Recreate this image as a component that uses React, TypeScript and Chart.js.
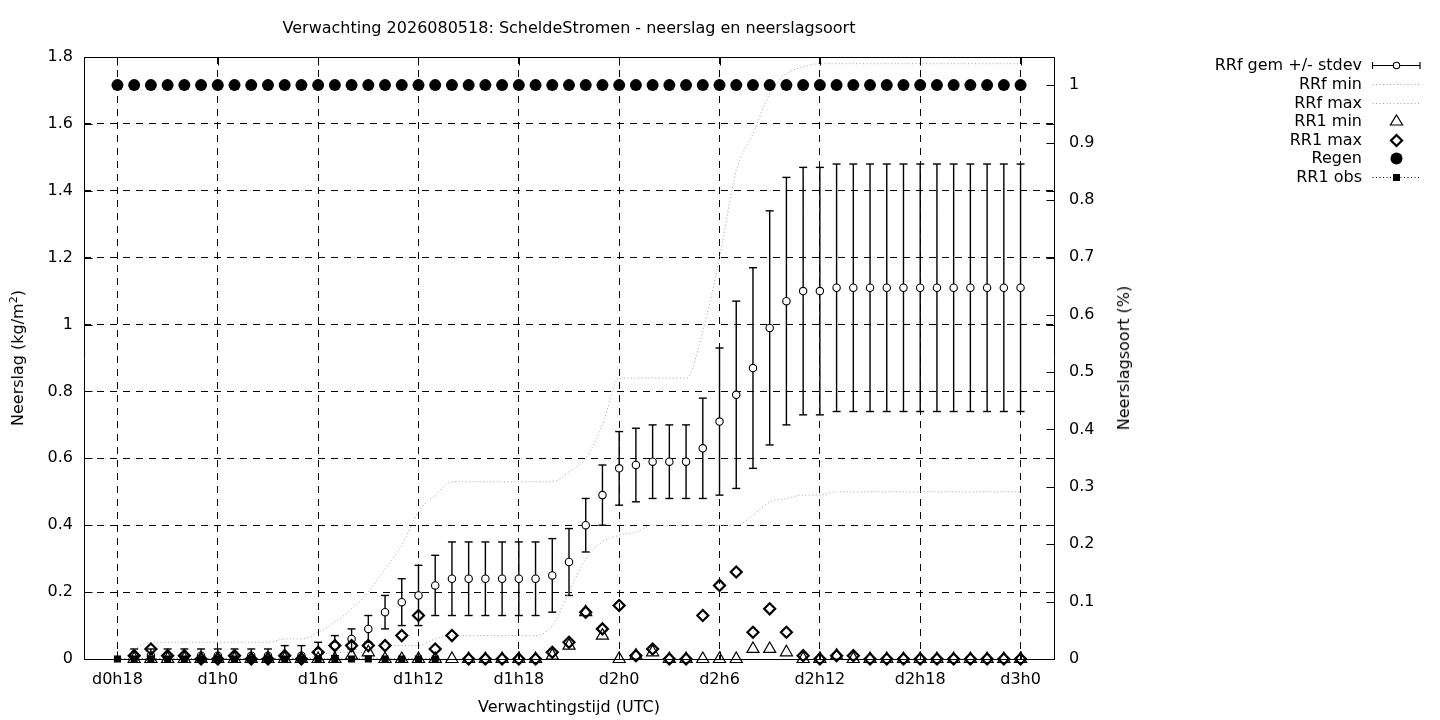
import React, { useEffect, useRef } from 'react';
import { Chart, registerables } from 'chart.js';

Chart.register(...registerables);

const FONT = "'DejaVu Sans', sans-serif";
const FONT_SIZE = 16;

const TITLE = 'Verwachting 2026080518: ScheldeStromen - neerslag en neerslagsoort';
const X_TITLE = 'Verwachtingstijd (UTC)';
const Y2_TITLE = 'Neerslagsoort (%)';

const X_TICK_VALUES = [18, 24, 30, 36, 42, 48, 54, 60, 66, 72];
const X_TICK_LABELS = ['d0h18', 'd1h0', 'd1h6', 'd1h12', 'd1h18', 'd2h0', 'd2h6', 'd2h12', 'd2h18', 'd3h0'];
const Y_TICK_VALUES = [0, 0.2, 0.4, 0.6, 0.8, 1, 1.2, 1.4, 1.6, 1.8];
const Y2_TICK_VALUES = [0, 0.1, 0.2, 0.3, 0.4, 0.5, 0.6, 0.7, 0.8, 0.9, 1];

// forecast hours (hours after d0h0)
const FC_HOURS = [19, 20, 21, 22, 23, 24, 25, 26, 27, 28, 29, 30, 31, 32, 33, 34, 35, 36, 37, 38, 39, 40, 41, 42, 43, 44, 45, 46, 47, 48, 49, 50, 51, 52, 53, 54, 55, 56, 57, 58, 59, 60, 61, 62, 63, 64, 65, 66, 67, 68, 69, 70, 71, 72];

const RRF_MEAN = [0.01, 0.01, 0.01, 0.01, 0.01, 0.01, 0.01, 0.01, 0.01, 0.01, 0.01,
  0.02, 0.04, 0.06, 0.09, 0.14, 0.17, 0.19, 0.22,
  0.24, 0.24, 0.24, 0.24, 0.24, 0.24,
  0.25, 0.29, 0.40, 0.49, 0.57, 0.58, 0.59, 0.59, 0.59,
  0.63, 0.71, 0.79, 0.87, 0.99, 1.07, 1.10, 1.10,
  1.11, 1.11, 1.11, 1.11, 1.11, 1.11, 1.11, 1.11, 1.11, 1.11, 1.11, 1.11];

const RRF_SD = [0.02, 0.02, 0.02, 0.02, 0.02, 0.02, 0.02, 0.02, 0.02, 0.03, 0.03,
  0.03, 0.03, 0.03, 0.04, 0.05, 0.07, 0.09, 0.09,
  0.11, 0.11, 0.11, 0.11, 0.11, 0.11,
  0.11, 0.10, 0.08, 0.09, 0.11, 0.11, 0.11, 0.11, 0.11,
  0.15, 0.22, 0.28, 0.30, 0.35, 0.37, 0.37, 0.37,
  0.37, 0.37, 0.37, 0.37, 0.37, 0.37, 0.37, 0.37, 0.37, 0.37, 0.37, 0.37];

const RRF_MIN = [0, 0, 0, 0, 0, 0, 0, 0, 0, 0, 0,
  0.01, 0.02, 0.02, 0.02, 0.04, 0.04, 0.04, 0.06,
  0.07, 0.07, 0.07, 0.07, 0.07, 0.07,
  0.10, 0.20, 0.30, 0.35, 0.37, 0.38, 0.40, 0.40, 0.40,
  0.40, 0.40, 0.40, 0.43, 0.47, 0.48, 0.49, 0.49,
  0.50, 0.50, 0.50, 0.50, 0.50, 0.50, 0.50, 0.50, 0.50, 0.50, 0.50, 0.50];

const RRF_MAX = [0.03, 0.05, 0.05, 0.05, 0.05, 0.05, 0.05, 0.05, 0.05, 0.06, 0.06,
  0.08, 0.11, 0.15, 0.20, 0.27, 0.34, 0.44, 0.49,
  0.53, 0.53, 0.53, 0.53, 0.53, 0.53,
  0.53, 0.56, 0.60, 0.70, 0.84, 0.84, 0.84, 0.84, 0.84,
  0.98, 1.20, 1.46, 1.57, 1.69, 1.75, 1.77, 1.78,
  1.78, 1.78, 1.78, 1.78, 1.78, 1.78, 1.78, 1.78, 1.78, 1.78, 1.78, 1.78];

const RR1_MIN = [0, 0, 0, 0, 0, 0, 0, 0, 0, 0, 0,
  0, 0, 0.01, 0.02, 0, 0, 0, 0,
  0, 0, 0, 0, 0, 0,
  0.01, 0.04, 0.14, 0.07, 0, 0.01, 0.02, 0, 0,
  0, 0, 0, 0.03, 0.03, 0.02, 0, 0,
  0.01, 0, 0, 0, 0, 0, 0, 0, 0, 0, 0, 0];

const RR1_MAX = [0.01, 0.03, 0.01, 0.01, 0, 0, 0.01, 0, 0, 0.01, 0,
  0.02, 0.04, 0.04, 0.04, 0.04, 0.07, 0.13, 0.03,
  0.07, 0, 0, 0, 0, 0,
  0.02, 0.05, 0.14, 0.09, 0.16, 0.01, 0.03, 0, 0,
  0.13, 0.22, 0.26, 0.08, 0.15, 0.08, 0.01, 0,
  0.01, 0.01, 0, 0, 0, 0, 0, 0, 0, 0, 0, 0];

const REGEN_HOURS = [18, 19, 20, 21, 22, 23, 24, 25, 26, 27, 28, 29, 30, 31, 32, 33, 34, 35, 36, 37, 38, 39, 40, 41, 42, 43, 44, 45, 46, 47, 48, 49, 50, 51, 52, 53, 54, 55, 56, 57, 58, 59, 60, 61, 62, 63, 64, 65, 66, 67, 68, 69, 70, 71, 72];
const REGEN_FRACTION = [1, 1, 1, 1, 1, 1, 1, 1, 1, 1, 1, 1, 1, 1, 1, 1, 1, 1, 1, 1, 1, 1, 1, 1, 1, 1, 1, 1, 1, 1, 1, 1, 1, 1, 1, 1, 1, 1, 1, 1, 1, 1, 1, 1, 1, 1, 1, 1, 1, 1, 1, 1, 1, 1, 1];

const OBS_HOURS = [18, 19, 20, 21, 22, 23, 24, 25, 26, 27, 28, 29, 30, 31, 32, 33, 34, 35, 36, 37];
const RR1_OBS = [0, 0, 0, 0, 0, 0, 0, 0, 0, 0, 0, 0, 0, 0, 0, 0, 0, 0, 0, 0];

const LEGEND_LABELS = ['RRf gem +/- stdev', 'RRf min', 'RRf max', 'RR1 min', 'RR1 max', 'Regen', 'RR1 obs'];

const GREY = 'rgb(160,160,160)';
const TICK_LEN = 8;

const fmt = (v: number) => String(Number(v.toFixed(2)));

const framePlugin = {
  id: 'gnuFrame',
  beforeDatasetsDraw(chart: any) {
    const { ctx, chartArea: a, scales } = chart;
    const L = Math.round(a.left) + 0.5;
    const R = Math.round(a.right) + 0.5;
    const T = Math.round(a.top) + 0.5;
    const B = Math.round(a.bottom) + 0.5;
    ctx.save();
    ctx.setLineDash([]);
    ctx.strokeStyle = '#000';
    ctx.lineWidth = 1;
    ctx.beginPath();
    ctx.rect(L, T, R - L, B - T);
    for (const v of X_TICK_VALUES) {
      const px = Math.round(scales.x.getPixelForValue(v)) + 0.5;
      ctx.moveTo(px, B); ctx.lineTo(px, B - TICK_LEN);
      ctx.moveTo(px, T); ctx.lineTo(px, T + TICK_LEN);
    }
    for (const v of Y_TICK_VALUES) {
      const py = Math.round(scales.y.getPixelForValue(v)) + 0.5;
      ctx.moveTo(L, py); ctx.lineTo(L + TICK_LEN, py);
      ctx.moveTo(R, py); ctx.lineTo(R - TICK_LEN, py);
    }
    for (const v of Y2_TICK_VALUES) {
      const py = Math.round(scales.y2.getPixelForValue(v)) + 0.5;
      ctx.moveTo(R, py); ctx.lineTo(R - TICK_LEN, py);
    }
    ctx.stroke();
    ctx.restore();
  },
};

function Sample({ kind }: { kind: number }) {
  const cy = 9.5;
  const common = { width: 50, height: 19, style: { position: 'absolute' as const, left: 0, top: 0 } };
  if (kind === 0) {
    return (
      <svg {...common}>
        <line x1={0.5} y1={cy} x2={48} y2={cy} stroke="#000" strokeWidth={1.2} />
        <line x1={0.5} y1={cy - 3.5} x2={0.5} y2={cy + 3.5} stroke="#000" strokeWidth={1.2} />
        <line x1={48} y1={cy - 3.5} x2={48} y2={cy + 3.5} stroke="#000" strokeWidth={1.2} />
        <circle cx={24.5} cy={cy} r={3.2} fill="#fff" stroke="#000" strokeWidth={1.1} />
      </svg>
    );
  }
  if (kind === 1 || kind === 2) {
    return (
      <svg {...common}>
        <line x1={0.5} y1={cy} x2={48} y2={cy} stroke={GREY} strokeWidth={1} strokeDasharray="1 2.5" />
      </svg>
    );
  }
  if (kind === 3) {
    return (
      <svg {...common}>
        <polygon points={`24.5,${cy - 6.5} 30.6,${cy + 3.5} 18.4,${cy + 3.5}`} fill="none" stroke="#000" strokeWidth={1.2} />
      </svg>
    );
  }
  if (kind === 4) {
    return (
      <svg {...common}>
        <polygon points={`24.5,${cy - 5.5} 30,${cy} 24.5,${cy + 5.5} 19,${cy}`} fill="none" stroke="#000" strokeWidth={2.2} />
      </svg>
    );
  }
  if (kind === 5) {
    return (
      <svg {...common}>
        <circle cx={24.5} cy={cy} r={6} fill="#000" />
      </svg>
    );
  }
  return (
    <svg {...common}>
      <line x1={0.5} y1={cy} x2={48} y2={cy} stroke="#000" strokeWidth={1} strokeDasharray="1 2.5" />
      <rect x={21} y={cy - 3.5} width={7} height={7} fill="#000" />
    </svg>
  );
}

export default function App() {
  const canvasRef = useRef<HTMLCanvasElement | null>(null);

  useEffect(() => {
    const canvas = canvasRef.current;
    if (!canvas) return;

    const errLines: any[] = [];
    const capPoints: any[] = [];
    FC_HOURS.forEach((h, i) => {
      const lo = RRF_MEAN[i] - RRF_SD[i];
      const hi = RRF_MEAN[i] + RRF_SD[i];
      errLines.push({ x: h, y: lo }, { x: h, y: hi }, { x: h, y: null });
      capPoints.push({ x: h, y: lo }, { x: h, y: hi });
    });

    const pts = (xs: number[], ys: number[]) => xs.map((x, i) => ({ x, y: ys[i] }));

    const datasets: any[] = [
      {
        label: 'RR1 obs',
        data: pts(OBS_HOURS, RR1_OBS),
        showLine: true,
        borderColor: '#000',
        borderWidth: 1,
        borderDash: [1, 2.5],
        pointStyle: 'rect',
        pointRadius: 5,
        pointBackgroundColor: '#000',
        pointBorderWidth: 0,
        clip: false,
      },
      {
        label: 'Regen',
        yAxisID: 'y2',
        data: pts(REGEN_HOURS, REGEN_FRACTION),
        showLine: false,
        pointStyle: 'circle',
        pointRadius: 6,
        pointBackgroundColor: '#000',
        pointBorderColor: '#000',
        pointBorderWidth: 0,
        clip: false,
      },
      {
        label: 'RR1 max',
        data: pts(FC_HOURS, RR1_MAX),
        showLine: false,
        pointStyle: 'rectRot',
        pointRadius: 5.5,
        pointBackgroundColor: 'rgba(0,0,0,0)',
        pointBorderColor: '#000',
        pointBorderWidth: 2.2,
        clip: false,
      },
      {
        label: 'RR1 min',
        data: pts(FC_HOURS, RR1_MIN),
        showLine: false,
        pointStyle: 'triangle',
        pointRadius: 7,
        pointBackgroundColor: 'rgba(0,0,0,0)',
        pointBorderColor: '#000',
        pointBorderWidth: 1.2,
        clip: false,
      },
      {
        label: 'RRf max',
        data: pts(FC_HOURS, RRF_MAX),
        borderColor: GREY,
        borderWidth: 1,
        borderDash: [1, 2.5],
        cubicInterpolationMode: 'monotone',
        pointRadius: 0,
      },
      {
        label: 'RRf min',
        data: pts(FC_HOURS, RRF_MIN),
        borderColor: GREY,
        borderWidth: 1,
        borderDash: [1, 2.5],
        cubicInterpolationMode: 'monotone',
        pointRadius: 0,
      },
      {
        label: 'RRf gem',
        data: pts(FC_HOURS, RRF_MEAN),
        showLine: false,
        pointStyle: 'circle',
        pointRadius: 3.7,
        pointBackgroundColor: '#fff',
        pointBorderColor: '#000',
        pointBorderWidth: 1.1,
        clip: false,
      },
      {
        label: 'stdev caps',
        data: capPoints,
        showLine: false,
        pointStyle: 'line',
        pointRadius: 4,
        pointBorderColor: '#000',
        pointBorderWidth: 1.4,
      },
      {
        label: 'stdev',
        data: errLines,
        showLine: true,
        spanGaps: false,
        borderColor: '#000',
        borderWidth: 1.4,
        pointRadius: 0,
      },
    ];

    const tickFont = { family: FONT, size: FONT_SIZE };

    const chart = new Chart(canvas, {
      type: 'line',
      data: { datasets },
      plugins: [framePlugin],
      options: {
        responsive: false,
        animation: false,
        events: [],
        layout: { padding: { top: 57, left: 0, right: 326, bottom: 21 } },
        plugins: {
          legend: { display: false },
          tooltip: { enabled: false },
          title: { display: false },
        },
        scales: {
          x: {
            type: 'linear',
            min: 16,
            max: 74,
            afterBuildTicks: (s: any) => { s.ticks = X_TICK_VALUES.map((v) => ({ value: v })); },
            afterFit: (s: any) => { s.height = 40; },
            ticks: {
              autoSkip: false,
              maxRotation: 0,
              padding: 11,
              color: '#000',
              font: tickFont,
              callback: (v: any) => X_TICK_LABELS[X_TICK_VALUES.indexOf(Number(v))] ?? '',
            },
            grid: { color: '#000', lineWidth: 1, drawTicks: false },
            border: { display: false, dash: [7, 6] },
          },
          y: {
            type: 'linear',
            position: 'left',
            min: 0,
            max: 1.8,
            afterBuildTicks: (s: any) => { s.ticks = Y_TICK_VALUES.map((v) => ({ value: v })); },
            afterFit: (s: any) => { s.width = 84; },
            ticks: { padding: 11, color: '#000', font: tickFont, callback: (v: any) => fmt(Number(v)) },
            grid: { color: '#000', lineWidth: 1, drawTicks: false },
            border: { display: false, dash: [7, 6] },
          },
          y2: {
            type: 'linear',
            position: 'right',
            min: 0,
            max: 1.049,
            afterBuildTicks: (s: any) => { s.ticks = Y2_TICK_VALUES.map((v) => ({ value: v })); },
            afterFit: (s: any) => { s.width = 60; },
            ticks: { padding: 15, color: '#000', font: tickFont, callback: (v: any) => fmt(Number(v)) },
            grid: { display: false, drawOnChartArea: false, drawTicks: false },
            border: { display: false },
          },
        },
      } as any,
    });

    return () => chart.destroy();
  }, []);

  const textBase: React.CSSProperties = {
    position: 'absolute',
    fontFamily: FONT,
    fontSize: FONT_SIZE,
    color: '#000',
    whiteSpace: 'nowrap',
    lineHeight: '20px',
  };

  const ROW_H = 18.55;
  const ROW0 = 56.4;

  return (
    <div style={{ position: 'fixed', left: 0, top: 0, width: 1440, height: 720, background: '#fff', overflow: 'hidden' }}>
      <canvas ref={canvasRef} width={1440} height={720} style={{ position: 'absolute', left: 0, top: 0, width: 1440, height: 720 }} />
      <div style={{ ...textBase, left: 0, width: 1138, top: 18, textAlign: 'center' }}>{TITLE}</div>
      <div style={{ ...textBase, left: 0, width: 1138, top: 697, textAlign: 'center' }}>{X_TITLE}</div>
      <div style={{ ...textBase, left: 18, top: 358, transform: 'translate(-50%, -50%) rotate(-90deg)' }}>
        Neerslag (kg/m<sup style={{ fontSize: '0.7em', lineHeight: 0 }}>2</sup>)
      </div>
      <div style={{ ...textBase, left: 1124, top: 358, transform: 'translate(-50%, -50%) rotate(-90deg)' }}>{Y2_TITLE}</div>
      {LEGEND_LABELS.map((lab, i) => (
        <React.Fragment key={lab}>
          <div style={{ ...textBase, right: 1440 - 1362, top: ROW0 + i * ROW_H, height: ROW_H, lineHeight: `${ROW_H}px`, textAlign: 'right' }}>{lab}</div>
          <div style={{ position: 'absolute', left: 1372, top: ROW0 + i * ROW_H, width: 50, height: 19 }}>
            <Sample kind={i} />
          </div>
        </React.Fragment>
      ))}
    </div>
  );
}
